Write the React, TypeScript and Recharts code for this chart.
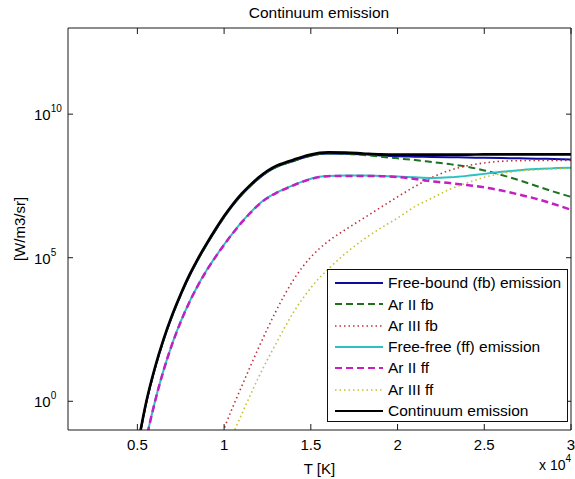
import React from "react";
import { LineChart, Line, XAxis, YAxis, Legend, Label } from "recharts";

// temperature in units of 10^4 K
const T_VALUES = [
  0.5, 0.55, 0.6, 0.65, 0.7, 0.75, 0.8, 0.85, 0.9, 0.95, 1.0, 1.05, 1.1, 1.15, 1.2, 1.25, 1.3, 1.35, 1.4,
  1.45, 1.5, 1.55, 1.6, 1.7, 1.8, 1.9, 2.0, 2.1, 2.2, 2.3, 2.4, 2.5, 2.6, 2.7, 2.8, 2.9, 3.0,
];

// emission, as log10 of W/m3/sr
const FB_LOG = [
  -1.64, -0.09, 1.11, 2.11, 2.96, 3.7, 4.36, 4.94, 5.46, 5.95, 6.41, 6.82, 7.18, 7.49, 7.76, 7.99, 8.16, 8.27, 8.37,
  8.47, 8.55, 8.61, 8.63, 8.62, 8.6, 8.56, 8.53, 8.52, 8.51, 8.5, 8.49, 8.48, 8.47, 8.46, 8.45, 8.44, 8.42,
];
const AR2_FB_LOG = [
  -1.64, -0.09, 1.11, 2.11, 2.96, 3.7, 4.36, 4.94, 5.46, 5.95, 6.41, 6.82, 7.18, 7.49, 7.76, 7.99, 8.16, 8.27, 8.37,
  8.47, 8.55, 8.61, 8.63, 8.62, 8.58, 8.52, 8.46, 8.4, 8.33, 8.26, 8.17, 8.04, 7.88, 7.7, 7.5, 7.3, 7.12,
];
const AR3_FB_LOG = [
  null, null, null, null, null, null, null, null, null, -1.8, -0.95, -0.2, 0.5, 1.2, 1.88, 2.53, 3.15, 3.72, 4.23,
  4.66, 5.02, 5.32, 5.57, 5.98, 6.36, 6.74, 7.12, 7.48, 7.8, 8.04, 8.2, 8.3, 8.36, 8.38, 8.39, 8.39, 8.39,
];
const FF_LOG = [
  -3.4, -1.39, -0.04, 1.06, 1.99, 2.78, 3.46, 4.05, 4.57, 5.03, 5.46, 5.86, 6.23, 6.56, 6.86, 7.09, 7.26, 7.4, 7.53,
  7.65, 7.75, 7.82, 7.85, 7.86, 7.86, 7.85, 7.83, 7.8, 7.78, 7.8, 7.85, 7.92, 7.99, 8.05, 8.09, 8.12, 8.13,
];
const AR2_FF_LOG = [
  -3.4, -1.4, -0.05, 1.05, 1.98, 2.77, 3.45, 4.04, 4.56, 5.02, 5.45, 5.85, 6.22, 6.55, 6.85, 7.08, 7.25, 7.39, 7.52,
  7.64, 7.74, 7.81, 7.84, 7.85, 7.85, 7.84, 7.81, 7.74, 7.66, 7.6, 7.53, 7.45, 7.34, 7.2, 7.05, 6.87, 6.67,
];
const AR3_FF_LOG = [
  null, null, null, null, null, null, null, null, null, null, -1.85, -1.15, -0.47, 0.2, 0.85, 1.45, 2.02, 2.58, 3.1,
  3.55, 3.95, 4.3, 4.6, 5.15, 5.62, 6.02, 6.38, 6.78, 7.08, 7.38, 7.6, 7.8, 7.93, 8.02, 8.06, 8.09, 8.11,
];
const TOTAL_LOG = [
  -1.6, -0.05, 1.15, 2.15, 3.0, 3.74, 4.4, 4.98, 5.5, 5.99, 6.45, 6.86, 7.22, 7.53, 7.8, 8.03, 8.2, 8.31, 8.41,
  8.51, 8.59, 8.65, 8.67, 8.66, 8.63, 8.6, 8.59, 8.59, 8.59, 8.59, 8.59, 8.6, 8.6, 8.6, 8.6, 8.6, 8.6,
];

const X_TICKS = [0.5, 1, 1.5, 2, 2.5, 3];
const Y_TICKS = [1, 1e5, 1e10];

const SERIES = [
  { key: "fb", name: "Free-bound (fb) emission", values: FB_LOG, color: "#0c0ca0", width: 2, dash: undefined },
  { key: "ar2fb", name: "Ar II fb", values: AR2_FB_LOG, color: "#1f701f", width: 2, dash: "7 4" },
  { key: "ar3fb", name: "Ar III fb", values: AR3_FB_LOG, color: "#c0303c", width: 1.6, dash: "1.5 3" },
  { key: "ff", name: "Free-free (ff) emission", values: FF_LOG, color: "#2cc0c0", width: 2, dash: undefined },
  { key: "ar2ff", name: "Ar II ff", values: AR2_FF_LOG, color: "#c41ec4", width: 2.5, dash: "7 4" },
  { key: "ar3ff", name: "Ar III ff", values: AR3_FF_LOG, color: "#c4c030", width: 1.6, dash: "1.5 3" },
  { key: "total", name: "Continuum emission", values: TOTAL_LOG, color: "#000000", width: 2.6, dash: undefined },
];

const data = T_VALUES.map((t, i) => {
  const row: Record<string, number | null> = { T: t };
  for (const s of SERIES) row[s.key] = s.values[i] == null ? null : 10 ** (s.values[i] as number);
  return row;
});

const FONT = "'Liberation Sans', Arial, Helvetica, sans-serif";
const W = 575, H = 479;
const PLOT_LEFT = 68, PLOT_RIGHT = 571, PLOT_TOP = 28, PLOT_BOTTOM = 430;
const AXIS = "#1a1a1a";

function XTick({ x, payload }: any) {
  return (
    <g>
      <line x1={x} x2={x} y1={PLOT_BOTTOM} y2={PLOT_BOTTOM - 6} stroke={AXIS} />
      <line x1={x} x2={x} y1={PLOT_TOP} y2={PLOT_TOP + 6} stroke={AXIS} />
      <text x={x} y={450} textAnchor="middle" fontFamily={FONT} fontSize={15} fill="#000">{payload.value}</text>
    </g>
  );
}

function YTick({ y, payload }: any) {
  const exp = Math.round(Math.log10(payload.value));
  return (
    <g>
      <line x1={PLOT_LEFT} x2={PLOT_LEFT + 5} y1={y} y2={y} stroke={AXIS} />
      <line x1={PLOT_RIGHT} x2={PLOT_RIGHT - 5} y1={y} y2={y} stroke={AXIS} />
      <text x={34} y={y + 6} fontFamily={FONT} fontSize={15} fill="#000">
        10<tspan dy={-8} fontSize={10}>{exp}</tspan>
      </text>
    </g>
  );
}

function LegendBox() {
  return (
    <div style={{
      width: 241, height: 153, boxSizing: "border-box", border: "1px solid #111", background: "#fff",
      fontFamily: FONT, fontSize: 15.5, color: "#000", paddingTop: 2.4,
    }}>
      {SERIES.map((s) => (
        <div key={s.key} style={{ display: "flex", alignItems: "center", height: 21.3 }}>
          <svg width={56} height={10} style={{ flex: "none" }}>
            <line x1={7} x2={55} y1={5} y2={5} stroke={s.color} strokeWidth={Math.min(s.width, 2)} strokeDasharray={s.dash} />
          </svg>
          <span style={{ marginLeft: 4, lineHeight: 1, whiteSpace: "nowrap" }}>{s.name}</span>
        </div>
      ))}
    </div>
  );
}

export default function App() {
  return (
    <div style={{ position: "absolute", left: 0, top: 0, width: W, height: H, background: "#fff" }}>
      <LineChart width={W} height={H} data={data} margin={{ top: PLOT_TOP - 1, right: W - PLOT_RIGHT - 1, bottom: 0, left: 0 }}>
        <XAxis
          dataKey="T" type="number" domain={[0.1, 3]} ticks={X_TICKS} interval={0} allowDataOverflow
          height={H - PLOT_BOTTOM} tickLine={false} tick={<XTick />} axisLine={{ stroke: AXIS }}
        >
          <Label content={() => (
            <g fontFamily={FONT} fill="#000">
              <text x={(PLOT_LEFT + PLOT_RIGHT) / 2} y={474} textAnchor="middle" fontSize={15}>T [K]</text>
              <text x={539} y={470} fontSize={14}>
                x 10<tspan dy={-8} fontSize={10}>4</tspan>
              </text>
            </g>
          )} />
        </XAxis>
        <XAxis xAxisId="top" orientation="top" type="number" domain={[0, 1]} height={1} tick={false} tickLine={false} axisLine={{ stroke: AXIS }}>
          <Label content={() => (
            <text x={319} y={18} textAnchor="middle" fontFamily={FONT} fontSize={15.5} fill="#000">Continuum emission</text>
          )} />
        </XAxis>
        <YAxis
          scale="log" type="number" domain={[0.1, 1e13]} ticks={Y_TICKS} interval={0} allowDataOverflow
          width={PLOT_LEFT} tickLine={false} tick={<YTick />} axisLine={{ stroke: AXIS }}
        >
          <Label content={() => (
            <text x={25} y={229} transform="rotate(-90 25 229)" textAnchor="middle" fontFamily={FONT} fontSize={15} fill="#000">[W/m3/sr]</text>
          )} />
        </YAxis>
        <YAxis yAxisId="right" orientation="right" type="number" domain={[0, 1]} width={1} tick={false} tickLine={false} axisLine={{ stroke: AXIS }} />
        {SERIES.map((s) => (
          <Line
            key={s.key} dataKey={s.key} name={s.name} type="monotone" stroke={s.color} strokeWidth={s.width}
            strokeDasharray={s.dash} dot={false} activeDot={false} connectNulls={false} isAnimationActive={false}
          />
        ))}
        <Legend
          layout="horizontal" verticalAlign="middle" align="center"
          wrapperStyle={{ left: 327, top: 269, width: 241, height: 153 }}
          content={() => <LegendBox />}
        />
      </LineChart>
    </div>
  );
}
